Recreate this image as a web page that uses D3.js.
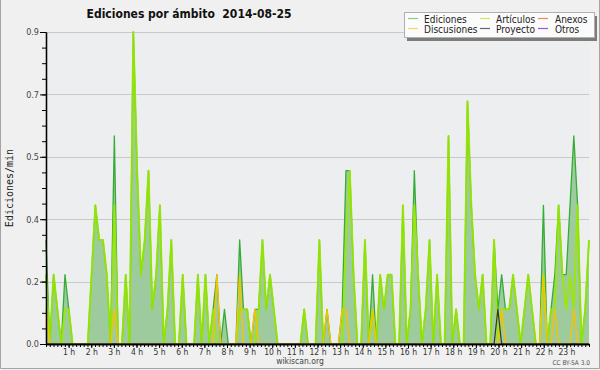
<!DOCTYPE html>
<html>
<head>
<meta charset="utf-8">
<title>Ediciones por ámbito</title>
<script src="https://cdn.jsdelivr.net/npm/d3@7/dist/d3.min.js"></script>
<style>
  body { margin: 0; background: #f0f0f0; }
  svg { display: block; }
</style>
</head>
<body>
<svg width="600" height="370"></svg>
<script>

// ediciones/min por tramos de 10 minutos, de 00:00 a 23:50 (una fila = 2 horas)
const ediciones = [
  0.3, 0,   0.2, 0.1, 0,   0.2, 0.1, 0,   0,   0,   0,   0,
  0.2, 0.4, 0.3, 0.3, 0.2, 0,   0.6, 0,   0,   0.2, 0,   0.9,
  0.5, 0.2, 0.3, 0.5, 0.1, 0.2, 0.4, 0,   0.1, 0.3, 0,   0,
  0.2, 0,   0,   0,   0.2, 0,   0.2, 0,   0.1, 0.2, 0,   0.1,
  0,   0,   0,   0.3, 0.1, 0.1, 0,   0.1, 0.1, 0.3, 0.1, 0.2,
  0.1, 0,   0,   0,   0,   0,   0,   0,   0.1, 0,   0,   0,
  0.3, 0,   0.1, 0,   0,   0,   0.1, 0.5, 0.5, 0.2, 0,   0,
  0.3, 0,   0.2, 0,   0.2, 0.1, 0.2, 0.2, 0,   0,   0.4, 0,
  0.1, 0.5, 0.2, 0,   0.1, 0.3, 0,   0.2, 0,   0,   0.6, 0,
  0.1, 0,   0,   0.7, 0.4, 0.2, 0.1, 0.2, 0,   0,   0.3, 0.1,
  0.2, 0.1, 0.1, 0.2, 0.1, 0,   0.1, 0.2, 0.1, 0,   0,   0.4,
  0,   0.1, 0.2, 0.4, 0.2, 0.2, 0.4, 0.6, 0.4, 0,   0.1, 0.3
];

const articulos = [
  0.2, 0,   0.2, 0.1, 0,   0.1, 0.1, 0,   0,   0,   0,   0,
  0.2, 0.4, 0.3, 0.3, 0.2, 0,   0.4, 0,   0,   0.2, 0,   0.9,
  0.5, 0.2, 0.3, 0.5, 0.1, 0.2, 0.4, 0,   0.1, 0.3, 0,   0,
  0.2, 0,   0,   0,   0.2, 0,   0.2, 0,   0.1, 0,   0,   0,
  0,   0,   0,   0.1, 0.1, 0.1, 0,   0,   0.1, 0.3, 0.1, 0.2,
  0.1, 0,   0,   0,   0,   0,   0,   0,   0.1, 0,   0,   0,
  0.3, 0,   0,   0,   0,   0,   0,   0.3, 0.5, 0.2, 0,   0,
  0.3, 0,   0.1, 0,   0.2, 0.1, 0.2, 0.2, 0,   0,   0.4, 0,
  0.1, 0.4, 0.2, 0,   0.1, 0.3, 0,   0.2, 0,   0,   0.6, 0,
  0.1, 0,   0,   0.7, 0.4, 0.2, 0.1, 0.2, 0,   0,   0.3, 0,
  0.1, 0.1, 0.1, 0.2, 0.1, 0,   0.1, 0.2, 0.1, 0,   0,   0.2,
  0,   0.1, 0.1, 0.4, 0.2, 0.1, 0.2, 0.1, 0.4, 0,   0.1, 0.3
];

const anexos = [
  0, 0, 0, 0, 0, 0, 0, 0, 0, 0, 0, 0,
  0, 0, 0, 0, 0, 0, 0, 0, 0, 0, 0, 0,
  0, 0, 0, 0, 0, 0, 0, 0, 0, 0, 0, 0,
  0, 0, 0, 0, 0, 0, 0, 0, 0, 0, 0, 0,
  0, 0, 0, 0, 0, 0, 0, 0, 0, 0, 0, 0,
  0, 0, 0, 0, 0, 0, 0, 0, 0, 0, 0, 0,
  0, 0, 0, 0, 0, 0, 0, 0, 0, 0, 0, 0,
  0, 0, 0, 0, 0, 0, 0, 0, 0, 0, 0, 0,
  0, 0, 0, 0, 0, 0, 0, 0, 0, 0, 0, 0,
  0, 0, 0, 0, 0, 0, 0, 0, 0, 0, 0, 0,
  0, 0, 0, 0, 0, 0, 0, 0, 0, 0, 0, 0,
  0, 0, 0, 0, 0, 0, 0, 0, 0, 0, 0, 0
];

const discusiones = [
  0.1, 0, 0, 0,   0, 0, 0,   0,   0, 0,   0, 0,
  0,   0, 0, 0,   0, 0, 0.1, 0,   0, 0,   0, 0,
  0,   0, 0, 0,   0, 0, 0,   0,   0, 0,   0, 0,
  0,   0, 0, 0,   0, 0, 0,   0,   0, 0.2, 0, 0,
  0,   0, 0, 0.2, 0, 0, 0,   0.1, 0, 0,   0, 0,
  0,   0, 0, 0,   0, 0, 0,   0,   0, 0,   0, 0,
  0,   0, 0.1, 0, 0, 0, 0.1, 0.1, 0, 0,   0, 0,
  0,   0, 0.1, 0, 0, 0, 0,   0,   0, 0,   0, 0,
  0,   0, 0, 0,   0, 0, 0,   0,   0, 0,   0, 0,
  0,   0, 0, 0,   0, 0, 0,   0,   0, 0,   0, 0,
  0.1, 0, 0, 0,   0, 0, 0,   0,   0, 0,   0, 0.2,
  0,   0, 0.1, 0, 0, 0, 0,   0.1, 0, 0,   0, 0
];

const proyecto = [
  0, 0, 0, 0, 0, 0, 0, 0, 0, 0, 0, 0,
  0, 0, 0, 0, 0, 0, 0, 0, 0, 0, 0, 0,
  0, 0, 0, 0, 0, 0, 0, 0, 0, 0, 0, 0,
  0, 0, 0, 0, 0, 0, 0, 0, 0, 0, 0, 0,
  0, 0, 0, 0, 0, 0, 0, 0, 0, 0, 0, 0,
  0, 0, 0, 0, 0, 0, 0, 0, 0, 0, 0, 0,
  0, 0, 0, 0, 0, 0, 0, 0, 0, 0, 0, 0,
  0, 0, 0, 0, 0, 0, 0, 0, 0, 0, 0, 0,
  0, 0, 0, 0, 0, 0, 0, 0, 0, 0, 0, 0,
  0, 0, 0, 0, 0, 0, 0, 0, 0, 0, 0, 0.1,
  0, 0, 0, 0, 0, 0, 0, 0, 0, 0, 0, 0,
  0, 0, 0, 0, 0, 0, 0, 0, 0, 0, 0, 0
];

const otros = [
  0, 0, 0, 0, 0, 0, 0, 0, 0, 0, 0, 0,
  0, 0, 0, 0, 0, 0, 0, 0, 0, 0, 0, 0,
  0, 0, 0, 0, 0, 0, 0, 0, 0, 0, 0, 0,
  0, 0, 0, 0, 0, 0, 0, 0, 0, 0, 0, 0,
  0, 0, 0, 0, 0, 0, 0, 0, 0, 0, 0, 0,
  0, 0, 0, 0, 0, 0, 0, 0, 0, 0, 0, 0,
  0, 0, 0, 0, 0, 0, 0, 0, 0, 0, 0, 0,
  0, 0, 0, 0, 0, 0, 0, 0, 0, 0, 0, 0,
  0, 0, 0, 0, 0, 0, 0, 0, 0, 0, 0, 0,
  0, 0, 0, 0, 0, 0, 0, 0, 0, 0, 0, 0,
  0, 0, 0, 0, 0, 0, 0, 0, 0, 0, 0, 0,
  0, 0, 0, 0, 0, 0, 0, 0, 0, 0, 0, 0
];

const ambitos = ["Ediciones", "Artículos", "Anexos", "Discusiones", "Proyecto", "Otros"];

const yTicks  = [0, 0.18, 0.36, 0.54, 0.72, 0.9];
const yLabels = ["0.0", "0.2", "0.4", "0.5", "0.7", "0.9"];

const horas = [1, 2, 3, 4, 5, 6, 7, 8, 9, 10, 11, 12, 13, 14, 15, 16, 17, 18, 19, 20, 21, 22, 23];
const etiquetasHoras = ["1 h", "2 h", "3 h", "4 h", "5 h", "6 h", "7 h", "8 h", "9 h", "10 h", "11 h", "12 h",
                        "13 h", "14 h", "15 h", "16 h", "17 h", "18 h", "19 h", "20 h", "21 h", "22 h", "23 h"];

const titulo = "Ediciones por ámbito  2014-08-25";
const tituloEje = "Ediciones/min";

const vis = {

    params : {

        plot : { x0: 46, x1: 589, y0: 344, y1: 32 },
        fonte : '"DejaVu Sans Condensed", "DejaVu Sans", sans-serif',
        fonte_mono : '"DejaVu Sans Mono", monospace'

    },

    refs : {
        svg : "svg"
    },

    escalas : {},

    // datos + estilo de cada serie (el orden es el de dibujo)
    series : [
        { nombre: "Anexos",      datos: anexos,      cor: "#ee7744", leg: "#f08858", ancho: 1.2 },
        { nombre: "Otros",       datos: otros,       cor: "#8844ee", leg: "#9a55f0", ancho: 1.2 },
        { nombre: "Ediciones",   datos: ediciones,   cor: "#35ac35", leg: "#88cc88", ancho: 1.3 },
        { nombre: "Artículos",   datos: articulos,   cor: "#9ae800", leg: "#c8ee55", ancho: 2 },
        { nombre: "Discusiones", datos: discusiones, cor: "#f4c400", leg: "#f8d858", ancho: 1.4 },
        { nombre: "Proyecto",    datos: proyecto,    cor: "#333333", leg: "#666666", ancho: 1.2 }
    ],

    draw : {

        escalas : function() {

            const p = vis.params.plot;

            vis.escalas.x = d3.scaleLinear().domain([0, ediciones.length - 1]).range([p.x0, p.x1]);
            vis.escalas.h = d3.scaleLinear().domain([0, 24]).range([p.x0, p.x1]);
            vis.escalas.y = d3.scaleLinear().domain([0, 0.9]).range([p.y0, p.y1]);

        },

        fundo : function(svg) {

            const p = vis.params.plot;

            svg.append("rect")
              .attr("width", 600)
              .attr("height", 370)
              .attr("fill", "#f0f0f0");

            svg.append("rect")
              .attr("x", p.x0)
              .attr("y", p.y1)
              .attr("width", p.x1 - p.x0)
              .attr("height", p.y0 - p.y1)
              .attr("fill", "#edeef0");

            svg.append("g")
              .selectAll("line")
              .data(yTicks.slice(1))
              .join("line")
              .attr("x1", p.x0)
              .attr("x2", p.x1)
              .attr("y1", d => Math.round(vis.escalas.y(d)) + 0.5)
              .attr("y2", d => Math.round(vis.escalas.y(d)) + 0.5)
              .attr("stroke", "#c9c9c9");

        },

        series : function(svg) {

            const x = vis.escalas.x, y = vis.escalas.y;

            const area = d3.area()
              .x((d, i) => x(i))
              .y0(y(0))
              .y1(d => y(d));

            const linha = d3.line()
              .x((d, i) => x(i))
              .y(d => y(d));

            svg.append("path")
              .datum(ediciones)
              .attr("d", area)
              .attr("fill", "#9ecb9e");

            svg.append("g")
              .selectAll("path")
              .data(vis.series)
              .join("path")
              .attr("d", d => linha(d.datos))
              .attr("fill", "none")
              .attr("stroke", d => d.cor)
              .attr("stroke-width", d => d.ancho)
              .attr("stroke-linejoin", "round")
              .attr("opacity", d => d.nombre == "Artículos" ? 0.9 : 1);

        },

        eixos : function(svg) {

            const p = vis.params.plot;
            const fonte = vis.params.fonte;

            // eje y: marcas menores cada 0.045
            svg.append("g")
              .attr("transform", `translate(${p.x0},0)`)
              .call(d3.axisLeft(vis.escalas.y)
                .tickValues(d3.range(0, 21).map(k => k * 0.045))
                .tickSize(4)
                .tickSizeOuter(0)
                .tickFormat(""));

            const gy = svg.append("g")
              .attr("transform", `translate(${p.x0},0)`)
              .call(d3.axisLeft(vis.escalas.y)
                .tickValues(yTicks)
                .tickSize(6)
                .tickSizeOuter(0)
                .tickPadding(1)
                .tickFormat((d, i) => yLabels[i]));

            gy.selectAll("text")
              .attr("font-family", fonte)
              .attr("font-size", 9)
              .attr("fill", "#444");

            // eje x: marcas cada 10 minutos y etiquetas por hora
            svg.append("g")
              .attr("transform", `translate(0,${p.y0})`)
              .call(d3.axisBottom(vis.escalas.h)
                .tickValues(d3.range(0, 145).map(k => k / 6))
                .tickSize(3)
                .tickSizeOuter(0)
                .tickFormat(""));

            const gx = svg.append("g")
              .attr("transform", `translate(0,${p.y0})`)
              .call(d3.axisBottom(vis.escalas.h)
                .tickValues(horas)
                .tickSize(4)
                .tickSizeOuter(0)
                .tickPadding(1)
                .tickFormat((d, i) => etiquetasHoras[i]));

            gx.selectAll("text")
              .attr("font-family", fonte)
              .attr("font-size", 8.5)
              .attr("fill", "#333");

            svg.selectAll(".domain").attr("stroke", "#000").attr("stroke-width", 1.3);

        },

        textos : function(svg) {

            const fonte = vis.params.fonte;

            svg.append("text")
              .attr("x", 189)
              .attr("y", 18)
              .attr("text-anchor", "middle")
              .attr("font-family", fonte)
              .attr("font-weight", "bold")
              .attr("font-size", 12)
              .attr("fill", "#111")
              .style("white-space", "pre")
              .text(titulo);

            svg.append("text")
              .attr("transform", "translate(13,188) rotate(-90)")
              .attr("text-anchor", "middle")
              .attr("font-family", vis.params.fonte_mono)
              .attr("font-size", 10)
              .attr("fill", "#222")
              .text(tituloEje);

            svg.append("text")
              .attr("x", 300)
              .attr("y", 364)
              .attr("text-anchor", "middle")
              .attr("font-family", fonte)
              .attr("font-size", 8.5)
              .attr("fill", "#444")
              .text("wikiscan.org");

            svg.append("text")
              .attr("x", 590)
              .attr("y", 365)
              .attr("text-anchor", "end")
              .attr("font-family", fonte)
              .attr("font-size", 6.5)
              .attr("fill", "#555")
              .text("CC BY-SA 3.0");

            // marco gris a la izquierda, derecha y abajo
            svg.append("path")
              .attr("d", "M0.5,0V368.5H599.5V0")
              .attr("fill", "none")
              .attr("stroke", "#a4a4a4");

        },

        legenda : function(svg) {

            const fonte = vis.params.fonte;
            const caixa = { x: 404, y: 12, w: 190, h: 25 };

            svg.append("rect")
              .attr("x", caixa.x + 3)
              .attr("y", caixa.y + 4)
              .attr("width", caixa.w)
              .attr("height", caixa.h)
              .attr("fill", "#7c7c7c");

            svg.append("rect")
              .attr("x", caixa.x + 0.5)
              .attr("y", caixa.y + 0.5)
              .attr("width", caixa.w)
              .attr("height", caixa.h)
              .attr("fill", "#fbfbfb")
              .attr("stroke", "#b0b0b0");

            const colunas = [408, 480, 538];
            const linhas = [18.5, 28.5];

            const itens = ambitos.map((nombre, k) => ({
                nombre: nombre,
                cor: vis.series.find(s => s.nombre == nombre).leg,
                cx: colunas[k % 3],
                cy: linhas[Math.floor(k / 3)]
            }));

            const g = svg.append("g")
              .selectAll("g")
              .data(itens)
              .join("g")
              .attr("transform", d => `translate(${d.cx},${d.cy})`);

            g.append("line")
              .attr("x1", 0)
              .attr("x2", 10)
              .attr("stroke", d => d.cor)
              .attr("stroke-width", 1.2);

            g.append("text")
              .attr("x", (d, k) => k % 3 == 2 ? 17 : 16)
              .attr("y", 4)
              .attr("font-family", fonte)
              .attr("font-size", 10)
              .attr("fill", "#222")
              .text(d => d.nombre);

        }

    },

    control : {

        init : function() {

            const svg = d3.select(vis.refs.svg);

            vis.draw.escalas();
            vis.draw.fundo(svg);
            vis.draw.series(svg);
            vis.draw.eixos(svg);
            vis.draw.textos(svg);
            vis.draw.legenda(svg);

        }

    }

};

vis.control.init();
</script>
</body>
</html>
